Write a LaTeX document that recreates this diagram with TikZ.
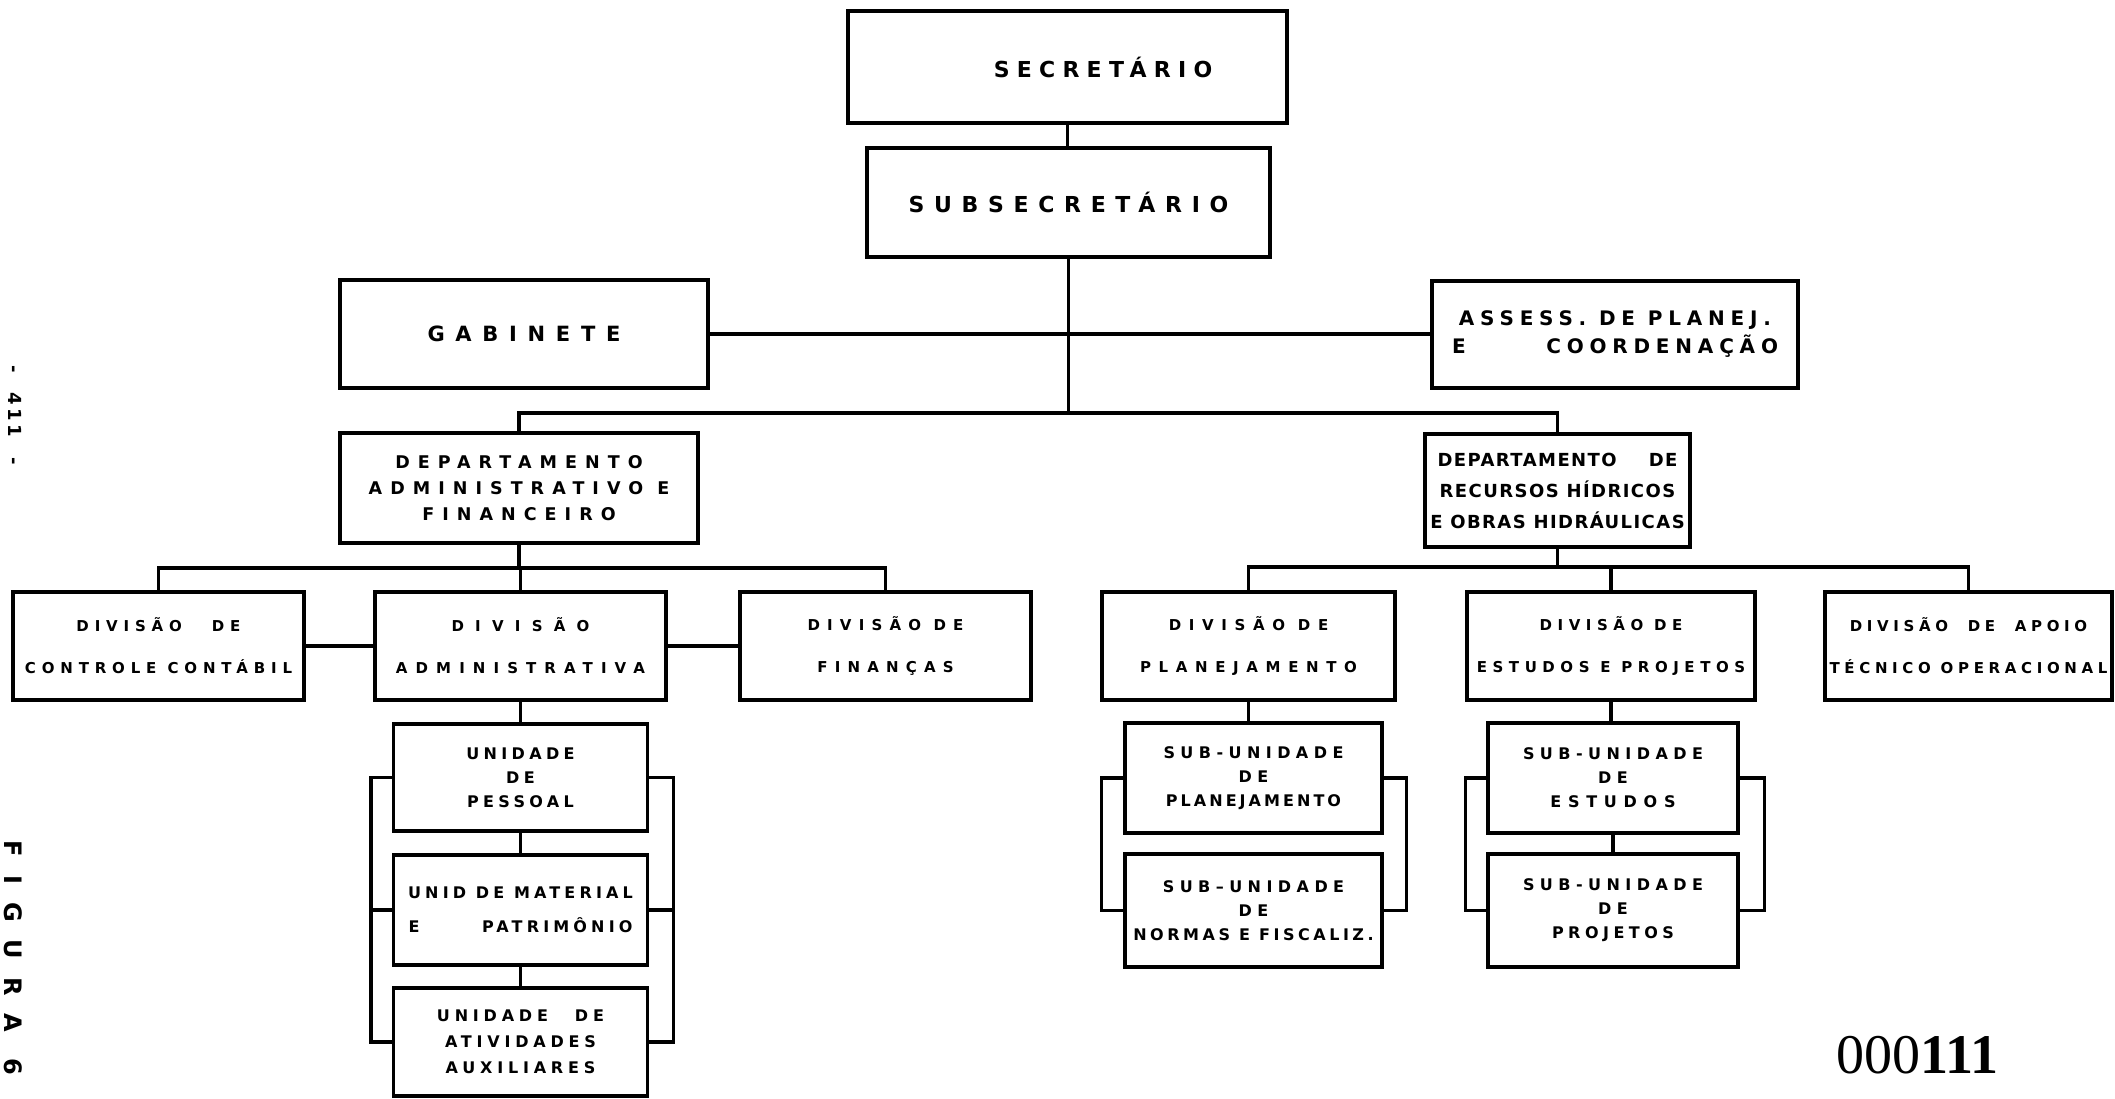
\documentclass[tikz,border=0pt]{standalone}
\usepackage{fontspec}
\setmainfont{DejaVu Sans}
\newfontfamily\stampfont{Liberation Serif}
\newcommand{\LSp}[1]{\addfontfeature{LetterSpace=#1}}
\tikzset{
  box/.style={draw, line width=3.2pt, inner sep=0pt, align=center},
  lt/.style n args={3}{font=\bfseries\fontsize{#1}{#2}\selectfont\LSp{#3}},
  wire/.style={line width=3.2pt},
}
\begin{document}
\begin{tikzpicture}[x=1pt,y=-1pt]
\useasboundingbox (0,0) rectangle (2115,1098);
\fill[white] (0,0) rectangle (2115,1098);
\clip (0,0) rectangle (2115,1098);

% top levels
\node[box, minimum width=439pt, minimum height=112pt, lt={22}{26}{33}] (sec) at (1067.5,67) {\hspace*{71pt}SECRETÁRIO};
\node[box, minimum width=403pt, minimum height=109pt, lt={22}{26}{44}] (sub) at (1068.5,202.5) {SUBSECRETÁRIO};
\node[box, minimum width=368pt, minimum height=108pt, lt={21}{26}{51}] (gab) at (524,334) {GABINETE};
\node[box, minimum width=366pt, minimum height=107pt, lt={20}{28}{29}] (ass) at (1615,334.5) {ASSESS. DE PLANEJ.\\\makebox[326pt]{E\hfill COORDENAÇÃO}};

% departments
\node[box, minimum width=358pt, minimum height=110pt, lt={17.5}{26}{46}] (dad) at (519,488) {DEPARTAMENTO\\ADMINISTRATIVO E\\FINANCEIRO};
\node[box, minimum width=265pt, minimum height=113pt, lt={18}{31}{8}] (drh) at (1557.5,490.5) {\makebox[240pt]{DEPARTAMENTO\hfill DE}\\RECURSOS HÍDRICOS\\E OBRAS HIDRÁULICAS};

% divisions
\node[box, minimum width=291pt, minimum height=108pt, lt={15}{42}{39}] (dcc) at (158.5,646) {DIVISÃO\hspace{30pt}DE\\CONTROLE CONTÁBIL};
\node[box, minimum width=291pt, minimum height=108pt, lt={15}{42}{54}] (dadm) at (520.5,646) {{\LSp{75}DIVISÃO}\\ADMINISTRATIVA};
\node[box, minimum width=291pt, minimum height=108pt, lt={15}{42}{48}] (dfin) at (885.5,646) {DIVISÃO DE\\FINANÇAS};
\node[box, minimum width=293pt, minimum height=108pt, lt={15}{42}{51}] (dpl) at (1248.5,646) {DIVISÃO DE\\PLANEJAMENTO};
\node[box, minimum width=288pt, minimum height=108pt, lt={15}{42}{37}] (des) at (1611,646) {DIVISÃO DE\\ESTUDOS E PROJETOS};
\node[box, minimum width=287pt, minimum height=108pt, lt={15}{42}{31}] (dap) at (1968.5,646) {DIVISÃO\ \ DE\ \ APOIO\\TÉCNICO OPERACIONAL};

% units (left)
\node[box, minimum width=254pt, minimum height=107pt, lt={16}{24}{27}] (pes) at (520.5,777.5) {UNIDADE\\DE\\PESSOAL};
\node[box, minimum width=254pt, minimum height=110pt, lt={16}{34}{26}] (mat) at (520.5,910) {UNID DE MATERIAL\\\makebox[224pt]{E\hfill PATRIMÔNIO}};
\node[box, minimum width=254pt, minimum height=108pt, lt={16}{26}{30}] (ati) at (520.5,1042) {UNIDADE\hspace{27pt}DE\\ATIVIDADES\\AUXILIARES};

% sub-units (middle)
\node[box, minimum width=257pt, minimum height=110pt, lt={16}{24}{34}] (spl) at (1253.5,778) {SUB-UNIDADE\\DE\\{\LSp{19}PLANEJAMENTO}};
\node[box, minimum width=257pt, minimum height=113pt, lt={16}{24}{34}] (snf) at (1253.5,910.5) {SUB–UNIDADE\\DE\\{\LSp{22}NORMAS E FISCALIZ.}};

% sub-units (right)
\node[box, minimum width=250pt, minimum height=110pt, lt={16}{24}{34}] (ses) at (1613,778) {SUB-UNIDADE\\DE\\{\LSp{42}ESTUDOS}};
\node[box, minimum width=250pt, minimum height=113pt, lt={16}{24}{34}] (spr) at (1613,910.5) {SUB-UNIDADE\\DE\\{\LSp{28}PROJETOS}};

% junction coordinates
\coordinate (bar1) at (1068.5,413);
\coordinate (bar2) at (519,568);
\coordinate (bar3) at (1557.5,567);

% connectors
\draw[wire] (sec.south) -- (sec.south |- sub.north);
\draw[wire] (sub.south) -- (bar1);
\draw[wire] (gab.east) -- (gab.east -| ass.west);
\draw[wire] (dad.north) |- (bar1) -| (drh.north);

\draw[wire] (dad.south) -- (bar2);
\draw[wire] (dcc.north) |- (bar2) -| (dfin.north);
\draw[wire] (dadm.north) -- (dadm.north |- bar2);
\draw[wire] (dcc.east) -- (dcc.east -| dadm.west);
\draw[wire] (dadm.east) -- (dadm.east -| dfin.west);

\draw[wire] (drh.south) -- (bar3);
\draw[wire] (dpl.north) |- (bar3) -| (dap.north);
\draw[wire] (des.north) -- (des.north |- bar3);

\draw[wire] (dadm.south) -- (pes.north);
\draw[wire] (pes.south) -- (mat.north);
\draw[wire] (mat.south) -- (ati.north);
\draw[wire] (pes.west) -- ++(-21,0) |- (ati.west);
\draw[wire] (mat.west) -- ++(-21,0);
\draw[wire] (pes.east) -- ++(24,0) |- (ati.east);
\draw[wire] (mat.east) -- ++(24,0);

\draw[wire] (dpl.south) -- (dpl.south |- spl.north);
\draw[wire] (spl.west) -- ++(-22,0) |- (snf.west);
\draw[wire] (spl.east) -- ++(23,0) |- (snf.east);

\draw[wire] (des.south) -- (des.south |- ses.north);
\draw[wire] (ses.south) -- (spr.north);
\draw[wire] (ses.west) -- ++(-21,0) |- (spr.west);
\draw[wire] (ses.east) -- ++(25,0) |- (spr.east);

% margin texts
\node[rotate=-90, font=\bfseries\fontsize{18}{20}\selectfont\LSp{20}] (pg) at (15,415) {-\ \ 411\ \ -};
\node[rotate=-90, font=\bfseries\fontsize{24}{26}\selectfont\LSp{75}, inner sep=1pt] (fig) at (13,958) {FIGURA 6};
\node[font=\stampfont\fontsize{56}{60}\selectfont, anchor=base west, inner sep=0pt] (stamp) at (1836,1073) {000\textbf{111}};
\end{tikzpicture}
\end{document}
